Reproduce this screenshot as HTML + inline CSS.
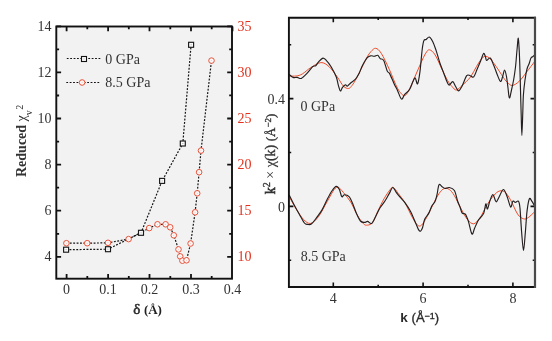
<!DOCTYPE html>
<html><head><meta charset="utf-8"><style>
html,body{margin:0;padding:0;background:#fff;width:552px;height:341px;overflow:hidden}
svg{display:block;will-change:transform;font-family:"Liberation Serif",serif}
</style></head><body>
<svg width="552" height="341" viewBox="0 0 552 341">
<rect x="0" y="0" width="552" height="341" fill="#fff"/>
<rect x="56.3" y="26.5" width="175.7" height="252.2" fill="#f2f2f2"/>
<rect x="288.9" y="17.7" width="246.1" height="269.3" fill="#f2f2f2"/>
<path d="M66.6 278.7 V273.9 M66.6 26.5 V31.3 M87.3 278.7 V275.9 M87.3 26.5 V29.3 M108.1 278.7 V273.9 M108.1 26.5 V31.3 M128.8 278.7 V275.9 M128.8 26.5 V29.3 M149.5 278.7 V273.9 M149.5 26.5 V31.3 M170.3 278.7 V275.9 M170.3 26.5 V29.3 M191.0 278.7 V273.9 M191.0 26.5 V31.3 M211.7 278.7 V275.9 M211.7 26.5 V29.3 M232.5 26.5 V31.3 M56.3 256.8 H61.1 M56.3 233.8 H59.1 M56.3 210.7 H61.1 M56.3 187.7 H59.1 M56.3 164.6 H61.1 M56.3 141.6 H59.1 M56.3 118.5 H61.1 M56.3 95.5 H59.1 M56.3 72.4 H61.1 M56.3 49.3 H59.1 M56.3 26.3 H61.1 M232.0 256.8 H227.2 M232.0 233.8 H229.2 M232.0 210.7 H227.2 M232.0 187.7 H229.2 M232.0 164.6 H227.2 M232.0 141.6 H229.2 M232.0 118.5 H227.2 M232.0 95.4 H229.2 M232.0 72.4 H227.2 M232.0 49.3 H229.2 M232.0 26.3 H227.2" stroke="#111" stroke-width="1.8" fill="none"/>
<rect x="56.3" y="26.5" width="175.7" height="252.2" fill="none" stroke="#111" stroke-width="1.9"/>
<path d="M333.3 287.0 V282.5 M333.3 17.7 V22.2 M378.2 287.0 V284.7 M378.2 17.7 V20.0 M423.1 287.0 V282.5 M423.1 17.7 V22.2 M468.0 287.0 V284.7 M468.0 17.7 V20.0 M512.9 287.0 V282.5 M512.9 17.7 V22.2 M288.9 260.3 H291.2 M535.0 260.3 H532.7 M288.9 206.4 H293.4 M535.0 206.4 H530.5 M288.9 152.5 H291.2 M535.0 152.5 H532.7 M288.9 98.6 H293.4 M535.0 98.6 H530.5 M288.9 44.7 H291.2 M535.0 44.7 H532.7" stroke="#111" stroke-width="1.6" fill="none"/>
<path d="M289.2 76.0 C290.4 76.0 294.0 76.3 296.2 76.0 C298.4 75.7 300.0 75.3 302.4 73.9 C304.8 72.5 307.5 69.6 310.6 67.7 C313.7 65.8 317.8 62.8 320.9 62.6 C324.0 62.4 326.4 64.3 329.1 66.7 C331.8 69.1 334.9 73.8 337.3 77.0 C339.7 80.2 341.6 84.3 343.5 86.2 C345.4 88.1 347.1 88.6 348.5 88.5 C349.9 88.4 350.6 87.2 352.0 85.5 C353.4 83.8 354.7 81.5 356.6 78.0 C358.5 74.5 361.4 68.3 363.2 64.8 C365.0 61.3 365.9 59.1 367.2 56.9 C368.5 54.7 369.6 52.9 371.0 51.5 C372.4 50.1 374.0 48.0 375.7 48.3 C377.4 48.6 379.0 49.8 381.3 53.4 C383.6 57.0 386.8 63.9 389.5 69.8 C392.2 75.7 395.2 84.3 397.7 88.6 C400.2 92.9 402.6 95.9 404.7 95.6 C406.8 95.3 408.6 90.5 410.5 86.9 C412.4 83.3 414.4 78.0 416.1 74.0 C417.9 70.0 419.4 66.2 421.0 62.7 C422.6 59.2 424.4 55.2 425.8 53.1 C427.2 51.0 427.9 49.5 429.5 49.8 C431.1 50.1 433.1 51.7 435.2 55.0 C437.3 58.3 440.1 65.5 442.2 69.8 C444.3 74.0 446.0 77.7 447.6 80.5 C449.2 83.3 450.5 84.9 452.0 86.5 C453.5 88.1 454.7 90.2 456.4 90.0 C458.1 89.8 459.6 87.7 462.0 85.5 C464.4 83.3 468.1 80.2 470.5 77.0 C472.9 73.8 474.4 69.8 476.5 66.5 C478.6 63.2 481.0 58.7 483.1 57.2 C485.2 55.7 486.9 56.2 489.0 57.7 C491.1 59.2 493.7 63.1 496.0 66.3 C498.3 69.5 501.2 74.3 503.0 76.9 C504.8 79.5 505.4 80.6 507.0 82.0 C508.6 83.4 510.2 85.7 512.3 85.5 C514.4 85.3 517.0 83.3 519.4 81.1 C521.8 78.9 523.9 75.5 526.4 72.3 C528.9 69.1 533.2 63.5 534.6 61.7" stroke="#ee4a28" stroke-width="1.0" fill="none"/>
<path d="M289.2 196.5 C290.4 198.6 293.8 205.2 296.2 209.0 C298.6 212.8 301.0 216.9 303.4 219.3 C305.8 221.7 308.0 223.9 310.6 223.4 C313.2 222.9 316.1 219.8 318.8 216.2 C321.5 212.6 324.4 206.2 327.0 201.8 C329.6 197.4 332.3 191.9 334.2 189.5 C336.1 187.1 336.8 187.0 338.3 187.5 C339.9 188.0 341.4 190.0 343.5 192.6 C345.6 195.2 348.9 199.1 351.2 202.9 C353.5 206.7 355.2 211.7 357.3 215.2 C359.4 218.7 361.8 222.2 363.5 223.8 C365.2 225.5 366.1 225.3 367.6 225.1 C369.1 224.9 371.0 224.7 372.7 222.4 C374.4 220.1 376.0 215.0 377.9 211.1 C379.8 207.2 381.9 202.4 384.0 198.8 C386.1 195.2 388.6 191.4 390.2 189.5 C391.8 187.6 391.9 186.8 393.3 187.5 C394.7 188.2 396.4 191.0 398.4 193.6 C400.3 196.2 402.7 198.9 405.0 202.9 C407.3 206.9 410.2 213.6 412.3 217.3 C414.4 221.0 415.9 223.8 417.5 225.1 C419.1 226.4 420.1 226.4 421.6 225.1 C423.1 223.8 424.8 220.7 426.7 217.3 C428.6 213.9 430.8 208.9 432.9 204.9 C434.9 200.9 437.1 196.3 439.0 193.6 C440.9 190.9 442.5 189.2 444.2 188.5 C445.9 187.8 447.6 188.3 449.3 189.5 C451.0 190.7 452.4 192.4 454.4 195.7 C456.4 198.9 459.0 205.1 461.2 209.0 C463.4 212.9 465.2 216.8 467.3 219.3 C469.4 221.8 471.4 224.0 473.5 223.8 C475.6 223.6 477.6 221.1 479.7 218.3 C481.8 215.5 483.8 210.4 485.8 207.0 C487.9 203.6 489.9 200.3 492.0 197.7 C494.1 195.1 496.1 192.6 498.1 191.6 C500.2 190.6 502.2 190.2 504.3 191.6 C506.4 193.0 508.3 196.1 510.5 199.8 C512.7 203.6 515.4 210.9 517.6 214.1 C519.8 217.3 521.7 218.2 523.5 218.8 C525.3 219.4 526.4 218.8 528.2 217.6 C530.1 216.4 533.5 212.8 534.6 211.8" stroke="#ee4a28" stroke-width="1.0" fill="none"/>
<path d="M289.2 74.5 C289.9 75.0 291.8 76.9 293.1 77.4 C294.4 77.9 295.8 77.2 297.2 77.4 C298.6 77.6 299.8 79.0 301.4 78.4 C302.9 77.8 304.6 75.9 306.5 73.9 C308.4 72.0 311.2 68.1 312.7 66.7 C314.2 65.3 314.7 66.5 315.7 65.7 C316.7 64.9 317.6 62.9 318.8 61.6 C320.0 60.3 321.7 58.4 322.9 58.1 C324.1 57.9 324.6 58.7 326.0 60.1 C327.4 61.5 329.4 63.9 331.1 66.7 C332.8 69.5 335.1 73.9 336.3 77.0 C337.5 80.1 337.6 82.9 338.3 85.2 C339.0 87.5 339.7 90.7 340.4 91.0 C341.1 91.3 341.6 88.3 342.5 87.3 C343.4 86.3 344.7 85.0 345.5 84.8 C346.3 84.6 346.4 86.5 347.3 86.2 C348.2 85.9 349.5 83.9 350.9 82.7 C352.3 81.5 354.1 80.8 355.5 79.2 C356.9 77.7 357.9 75.7 359.1 73.4 C360.3 71.1 361.2 67.8 362.6 65.2 C364.0 62.6 365.9 59.3 367.3 57.7 C368.7 56.1 369.6 56.0 370.8 55.8 C372.0 55.5 373.1 56.3 374.3 56.2 C375.5 56.1 376.8 54.9 377.8 55.3 C378.8 55.7 379.2 57.7 380.2 58.6 C381.2 59.5 382.5 58.4 383.7 60.5 C384.9 62.6 386.2 68.8 387.2 71.0 C388.2 73.2 388.3 71.2 389.5 73.4 C390.7 75.6 392.8 81.0 394.2 83.9 C395.6 86.8 396.5 88.4 397.7 90.9 C398.9 93.4 400.3 98.5 401.5 99.1 C402.7 99.7 403.4 96.0 404.7 94.4 C406.0 92.9 408.0 91.9 409.4 89.8 C410.8 87.7 411.9 83.6 412.9 81.6 C413.9 79.6 414.4 77.6 415.2 78.0 C416.0 78.4 416.8 84.9 417.6 83.9 C418.4 82.9 419.1 78.1 419.9 72.2 C420.7 66.3 421.6 54.0 422.3 48.7 C423.0 43.4 423.2 42.0 423.9 40.5 C424.5 39.0 425.3 40.0 426.2 39.4 C427.1 38.8 428.2 36.6 429.3 37.0 C430.4 37.4 431.6 39.4 432.8 41.7 C434.0 44.1 435.1 47.6 436.3 51.1 C437.5 54.6 438.6 59.3 439.8 62.8 C441.0 66.3 442.2 69.1 443.4 72.2 C444.6 75.3 445.9 79.4 446.9 81.6 C447.9 83.8 448.2 85.1 449.2 85.1 C450.2 85.1 451.6 81.4 452.7 81.6 C453.8 81.8 454.5 84.7 455.5 86.2 C456.5 87.8 457.4 90.9 458.5 90.9 C459.6 90.9 460.6 88.7 462.0 86.2 C463.4 83.7 465.3 77.5 466.7 75.7 C468.1 74.0 469.0 75.5 470.2 75.7 C471.4 75.9 472.5 78.1 473.7 76.9 C474.9 75.7 476.1 71.4 477.3 68.7 C478.5 66.0 479.8 63.0 480.8 60.5 C481.9 58.0 482.8 54.0 483.6 53.4 C484.4 52.8 485.0 55.8 485.5 57.0 C486.0 58.2 485.8 60.3 486.6 60.5 C487.4 60.7 489.0 57.3 490.2 58.1 C491.4 58.9 492.5 62.5 493.7 65.2 C494.9 67.9 496.1 71.8 497.2 74.5 C498.3 77.2 499.6 81.1 500.5 81.5 C501.4 81.9 501.9 78.6 502.6 76.7 C503.3 74.8 503.9 70.1 504.5 70.0 C505.1 69.9 505.8 73.0 506.4 76.0 C507.0 79.0 507.5 84.3 508.0 88.0 C508.5 91.7 508.8 97.7 509.4 98.0 C510.0 98.3 510.8 93.0 511.5 90.0 C512.2 87.0 512.9 83.8 513.6 80.0 C514.3 76.2 514.9 72.0 515.5 67.0 C516.1 62.0 516.5 54.8 517.0 50.0 C517.5 45.2 517.9 37.9 518.3 38.2 C518.7 38.5 519.0 47.5 519.3 52.0 C519.5 56.5 519.6 58.7 519.8 65.0 C520.0 71.3 520.3 81.7 520.5 90.0 C520.7 98.3 521.0 107.4 521.2 115.0 C521.4 122.6 521.6 135.5 521.9 135.5 C522.1 135.5 522.5 121.8 522.7 115.0 C523.0 108.2 523.0 100.8 523.4 95.0 C523.8 89.2 524.4 84.3 525.0 80.0 C525.6 75.7 526.3 71.7 527.0 69.0 C527.7 66.3 528.3 65.8 529.0 64.0 C529.7 62.2 530.3 59.2 531.0 58.0 C531.7 56.8 532.4 57.0 533.0 56.5 C533.6 56.0 534.3 55.2 534.6 55.0" stroke="#241e1e" stroke-width="1.15" fill="none" stroke-linejoin="round"/>
<path d="M289.2 195.0 C290.0 196.7 292.5 201.7 294.2 204.9 C295.9 208.1 297.6 211.2 299.3 214.2 C301.0 217.2 303.0 221.3 304.4 223.0 C305.8 224.7 306.3 224.3 307.5 224.4 C308.7 224.5 310.1 225.0 311.6 223.8 C313.2 222.6 315.1 219.6 316.8 217.3 C318.5 215.0 320.2 213.0 321.9 210.1 C323.6 207.2 325.3 203.1 327.0 199.8 C328.7 196.5 330.6 192.7 332.2 190.5 C333.8 188.3 335.1 186.6 336.3 186.4 C337.5 186.2 338.5 187.8 339.4 189.5 C340.3 191.2 340.9 195.8 341.8 196.7 C342.7 197.6 343.3 194.7 344.5 194.7 C345.7 194.7 347.7 195.0 349.1 196.7 C350.6 198.4 352.0 202.2 353.2 204.9 C354.4 207.6 355.1 210.4 356.3 213.1 C357.5 215.8 359.0 219.4 360.4 221.0 C361.8 222.6 363.3 222.3 364.5 222.4 C365.7 222.5 366.4 221.2 367.6 221.4 C368.8 221.6 370.3 224.3 371.7 223.4 C373.1 222.5 374.4 218.8 375.8 216.2 C377.2 213.6 378.3 210.6 379.9 208.0 C381.4 205.4 383.6 203.2 385.1 200.8 C386.7 198.4 387.9 195.8 389.2 193.6 C390.5 191.4 391.5 187.7 392.7 187.5 C393.9 187.3 395.1 190.9 396.4 192.6 C397.7 194.3 399.1 196.0 400.5 197.7 C401.9 199.4 403.5 200.7 405.1 202.9 C406.7 205.1 408.6 207.8 410.3 211.1 C412.0 214.3 414.0 219.3 415.4 222.4 C416.8 225.5 417.6 228.1 418.5 229.6 C419.4 231.1 419.8 231.5 420.5 231.2 C421.2 230.8 421.9 229.5 422.6 227.5 C423.3 225.5 423.7 221.7 424.7 219.3 C425.7 216.9 427.6 215.3 428.8 213.1 C430.0 210.9 430.8 207.9 431.8 206.0 C432.8 204.1 434.0 203.7 434.9 201.8 C435.8 199.9 436.3 197.5 437.0 194.7 C437.7 191.9 438.1 186.1 439.0 184.8 C439.9 183.5 441.1 186.2 442.1 186.8 C443.1 187.4 444.0 188.4 445.2 188.5 C446.4 188.6 447.8 187.2 449.3 187.5 C450.8 187.8 453.0 188.3 454.4 190.5 C455.8 192.7 456.6 198.1 457.5 200.8 C458.4 203.6 459.2 204.9 460.0 207.0 C460.8 209.1 461.3 211.9 462.2 213.1 C463.1 214.3 464.3 212.8 465.3 214.2 C466.3 215.6 467.4 218.5 468.4 221.4 C469.3 224.3 470.3 229.5 471.0 231.6 C471.7 233.7 471.9 234.6 472.5 234.1 C473.1 233.6 473.6 230.7 474.5 228.6 C475.4 226.5 476.6 223.3 477.6 221.4 C478.6 219.5 479.7 218.7 480.7 217.3 C481.7 215.9 482.9 215.3 483.8 213.1 C484.7 210.9 485.2 204.6 485.8 203.9 C486.4 203.2 486.8 209.5 487.5 209.0 C488.2 208.5 489.0 203.2 489.9 200.8 C490.8 198.4 492.0 194.5 493.0 194.7 C494.0 194.9 495.1 201.5 496.1 201.8 C497.1 202.1 498.0 198.8 499.2 196.7 C500.4 194.6 502.1 189.5 503.4 189.5 C504.7 189.5 505.9 193.6 507.1 196.5 C508.3 199.4 509.6 206.2 510.6 207.0 C511.6 207.8 512.1 202.0 512.9 201.2 C513.7 200.4 514.4 202.4 515.3 202.4 C516.2 202.4 517.6 200.2 518.4 201.2 C519.2 202.2 519.5 203.1 520.0 208.2 C520.5 213.3 521.0 224.7 521.6 231.8 C522.2 238.9 522.9 250.6 523.5 250.6 C524.1 250.6 524.8 238.5 525.4 231.8 C526.0 225.1 526.4 216.1 527.1 210.6 C527.8 205.1 528.6 200.4 529.4 198.8 C530.2 197.2 530.9 200.0 531.8 201.2 C532.7 202.4 534.1 205.1 534.6 205.9" stroke="#241e1e" stroke-width="1.15" fill="none" stroke-linejoin="round"/>
<path d="M535.0 17.7 H288.9 V287.0 H535.0 Z" fill="none" stroke="#111" stroke-width="1.9"/>
<path d="M535.0 16.8 V287.9" fill="none" stroke="#4a4a4a" stroke-width="2.2"/>
<path d="M66.4 243.2 L87.2 243.2 L108.0 242.8 L128.6 239.1 L149.2 228.1 L157.5 224.3 L165.6 224.3 L170.2 227.3 L173.8 235.3 L178.5 249.4 L180.2 256.4 L182.4 260.7 L186.5 260.3 L190.6 243.5 L195.1 212.3 L197.2 193.3 L199.1 172.2 L201.0 150.6 L211.5 60.6" stroke="#151515" stroke-width="1.2" stroke-dasharray="1.9 1.5" fill="none"/>
<path d="M66.1 249.7 L108.0 249.2 L141.0 232.8 L162.1 180.9 L182.8 143.5 L191.1 44.8" stroke="#151515" stroke-width="1.2" stroke-dasharray="1.9 1.5" fill="none"/>
<circle cx="66.4" cy="243.2" r="2.8" fill="#fbf8f8" stroke="#e84a30" stroke-width="0.95"/><circle cx="66.4" cy="243.2" r="0.45" fill="#f0a090"/>
<circle cx="87.2" cy="243.2" r="2.8" fill="#fbf8f8" stroke="#e84a30" stroke-width="0.95"/><circle cx="87.2" cy="243.2" r="0.45" fill="#f0a090"/>
<circle cx="108.0" cy="242.8" r="2.8" fill="#fbf8f8" stroke="#e84a30" stroke-width="0.95"/><circle cx="108.0" cy="242.8" r="0.45" fill="#f0a090"/>
<circle cx="128.6" cy="239.1" r="2.8" fill="#fbf8f8" stroke="#e84a30" stroke-width="0.95"/><circle cx="128.6" cy="239.1" r="0.45" fill="#f0a090"/>
<circle cx="149.2" cy="228.1" r="2.8" fill="#fbf8f8" stroke="#e84a30" stroke-width="0.95"/><circle cx="149.2" cy="228.1" r="0.45" fill="#f0a090"/>
<circle cx="157.5" cy="224.3" r="2.8" fill="#fbf8f8" stroke="#e84a30" stroke-width="0.95"/><circle cx="157.5" cy="224.3" r="0.45" fill="#f0a090"/>
<circle cx="165.6" cy="224.3" r="2.8" fill="#fbf8f8" stroke="#e84a30" stroke-width="0.95"/><circle cx="165.6" cy="224.3" r="0.45" fill="#f0a090"/>
<circle cx="170.2" cy="227.3" r="2.8" fill="#fbf8f8" stroke="#e84a30" stroke-width="0.95"/><circle cx="170.2" cy="227.3" r="0.45" fill="#f0a090"/>
<circle cx="173.8" cy="235.3" r="2.8" fill="#fbf8f8" stroke="#e84a30" stroke-width="0.95"/><circle cx="173.8" cy="235.3" r="0.45" fill="#f0a090"/>
<circle cx="178.5" cy="249.4" r="2.8" fill="#fbf8f8" stroke="#e84a30" stroke-width="0.95"/><circle cx="178.5" cy="249.4" r="0.45" fill="#f0a090"/>
<circle cx="180.2" cy="256.4" r="2.8" fill="#fbf8f8" stroke="#e84a30" stroke-width="0.95"/><circle cx="180.2" cy="256.4" r="0.45" fill="#f0a090"/>
<circle cx="182.4" cy="260.7" r="2.8" fill="#fbf8f8" stroke="#e84a30" stroke-width="0.95"/><circle cx="182.4" cy="260.7" r="0.45" fill="#f0a090"/>
<circle cx="186.5" cy="260.3" r="2.8" fill="#fbf8f8" stroke="#e84a30" stroke-width="0.95"/><circle cx="186.5" cy="260.3" r="0.45" fill="#f0a090"/>
<circle cx="190.6" cy="243.5" r="2.8" fill="#fbf8f8" stroke="#e84a30" stroke-width="0.95"/><circle cx="190.6" cy="243.5" r="0.45" fill="#f0a090"/>
<circle cx="195.1" cy="212.3" r="2.8" fill="#fbf8f8" stroke="#e84a30" stroke-width="0.95"/><circle cx="195.1" cy="212.3" r="0.45" fill="#f0a090"/>
<circle cx="197.2" cy="193.3" r="2.8" fill="#fbf8f8" stroke="#e84a30" stroke-width="0.95"/><circle cx="197.2" cy="193.3" r="0.45" fill="#f0a090"/>
<circle cx="199.1" cy="172.2" r="2.8" fill="#fbf8f8" stroke="#e84a30" stroke-width="0.95"/><circle cx="199.1" cy="172.2" r="0.45" fill="#f0a090"/>
<circle cx="201.0" cy="150.6" r="2.8" fill="#fbf8f8" stroke="#e84a30" stroke-width="0.95"/><circle cx="201.0" cy="150.6" r="0.45" fill="#f0a090"/>
<circle cx="211.5" cy="60.6" r="2.8" fill="#fbf8f8" stroke="#e84a30" stroke-width="0.95"/><circle cx="211.5" cy="60.6" r="0.45" fill="#f0a090"/>
<rect x="63.6" y="247.2" width="5" height="5" fill="#fbfbfb" stroke="#1a1a1a" stroke-width="1.15"/><rect x="65.6" y="249.2" width="0.9" height="0.9" fill="#999"/>
<rect x="105.5" y="246.7" width="5" height="5" fill="#fbfbfb" stroke="#1a1a1a" stroke-width="1.15"/><rect x="107.5" y="248.8" width="0.9" height="0.9" fill="#999"/>
<rect x="138.5" y="230.3" width="5" height="5" fill="#fbfbfb" stroke="#1a1a1a" stroke-width="1.15"/><rect x="140.6" y="232.4" width="0.9" height="0.9" fill="#999"/>
<rect x="159.6" y="178.4" width="5" height="5" fill="#fbfbfb" stroke="#1a1a1a" stroke-width="1.15"/><rect x="161.7" y="180.5" width="0.9" height="0.9" fill="#999"/>
<rect x="180.3" y="141.0" width="5" height="5" fill="#fbfbfb" stroke="#1a1a1a" stroke-width="1.15"/><rect x="182.4" y="143.1" width="0.9" height="0.9" fill="#999"/>
<rect x="188.6" y="42.3" width="5" height="5" fill="#fbfbfb" stroke="#1a1a1a" stroke-width="1.15"/><rect x="190.7" y="44.3" width="0.9" height="0.9" fill="#999"/>
<path d="M66.8 58.5 H81 M100.3 58.5 H87" stroke="#111" stroke-width="1.1" stroke-dasharray="1.8 1.6"/>
<rect x="81.5" y="56.5" width="5" height="5" fill="#fbfbfb" stroke="#111" stroke-width="1.1"/><rect x="83.5" y="58.5" width="1" height="1" fill="#aaa"/>
<path d="M66.3 82.5 H79.2 M99.2 82.5 H85" stroke="#111" stroke-width="1.1" stroke-dasharray="1.8 1.6"/>
<circle cx="82.1" cy="82.5" r="2.8" fill="#fbf8f8" stroke="#e84a30" stroke-width="0.95"/><circle cx="82.1" cy="82.5" r="0.45" fill="#f0a090"/>
<text x="105.3" y="63.6" font-family="Liberation Serif, serif" font-size="14.0" text-anchor="start" fill="#333" font-weight="normal" >0 GPa</text>
<text x="105.3" y="86.9" font-family="Liberation Serif, serif" font-size="14.0" text-anchor="start" fill="#333" font-weight="normal" >8.5 GPa</text>
<text x="51.5" y="30.9" font-family="Liberation Serif, serif" font-size="14.0" text-anchor="end" fill="#333" font-weight="normal" >14</text>
<text x="51.5" y="77.0" font-family="Liberation Serif, serif" font-size="14.0" text-anchor="end" fill="#333" font-weight="normal" >12</text>
<text x="51.5" y="123.1" font-family="Liberation Serif, serif" font-size="14.0" text-anchor="end" fill="#333" font-weight="normal" >10</text>
<text x="51.5" y="169.2" font-family="Liberation Serif, serif" font-size="14.0" text-anchor="end" fill="#333" font-weight="normal" >8</text>
<text x="51.5" y="215.3" font-family="Liberation Serif, serif" font-size="14.0" text-anchor="end" fill="#333" font-weight="normal" >6</text>
<text x="51.5" y="261.4" font-family="Liberation Serif, serif" font-size="14.0" text-anchor="end" fill="#333" font-weight="normal" >4</text>
<text x="237.5" y="30.9" font-family="Liberation Serif, serif" font-size="14.0" text-anchor="start" fill="#e2321e" font-weight="normal" >35</text>
<text x="237.5" y="77.0" font-family="Liberation Serif, serif" font-size="14.0" text-anchor="start" fill="#e2321e" font-weight="normal" >30</text>
<text x="237.5" y="123.1" font-family="Liberation Serif, serif" font-size="14.0" text-anchor="start" fill="#e2321e" font-weight="normal" >25</text>
<text x="237.5" y="169.2" font-family="Liberation Serif, serif" font-size="14.0" text-anchor="start" fill="#e2321e" font-weight="normal" >20</text>
<text x="237.5" y="215.3" font-family="Liberation Serif, serif" font-size="14.0" text-anchor="start" fill="#e2321e" font-weight="normal" >15</text>
<text x="237.5" y="261.4" font-family="Liberation Serif, serif" font-size="14.0" text-anchor="start" fill="#e2321e" font-weight="normal" >10</text>
<text x="66.6" y="293.6" font-family="Liberation Serif, serif" font-size="14.0" text-anchor="middle" fill="#333" font-weight="normal" >0</text>
<text x="108.1" y="293.6" font-family="Liberation Serif, serif" font-size="14.0" text-anchor="middle" fill="#333" font-weight="normal" >0.1</text>
<text x="149.5" y="293.6" font-family="Liberation Serif, serif" font-size="14.0" text-anchor="middle" fill="#333" font-weight="normal" >0.2</text>
<text x="191.0" y="293.6" font-family="Liberation Serif, serif" font-size="14.0" text-anchor="middle" fill="#333" font-weight="normal" >0.3</text>
<text x="232.5" y="293.6" font-family="Liberation Serif, serif" font-size="14.0" text-anchor="middle" fill="#333" font-weight="normal" >0.4</text>
<text x="133.3" y="314.0" font-family="Liberation Serif, serif" font-size="14.0" text-anchor="start" fill="#333" font-weight="normal" ><tspan font-size="15" stroke="#222" stroke-width="0.5">&#948;</tspan> <tspan font-weight="bold" font-size="13" fill="#222">(&#197;)</tspan></text>
<text transform="translate(26.1,177) rotate(-90)" font-family="Liberation Serif, serif" font-size="14" fill="#333"><tspan font-weight="bold">Reduced </tspan>&#967;<tspan font-size="10" dy="6.3">v</tspan><tspan font-size="10" dx="0.5" dy="-9.3">2</tspan></text>
<text x="300.5" y="111.0" font-family="Liberation Serif, serif" font-size="14.0" text-anchor="start" fill="#333" font-weight="normal" >0 GPa</text>
<text x="300.7" y="260.7" font-family="Liberation Serif, serif" font-size="14.0" text-anchor="start" fill="#333" font-weight="normal" >8.5 GPa</text>
<text x="333.3" y="302.8" font-family="Liberation Serif, serif" font-size="14.0" text-anchor="middle" fill="#333" font-weight="normal" >4</text>
<text x="423.1" y="302.8" font-family="Liberation Serif, serif" font-size="14.0" text-anchor="middle" fill="#333" font-weight="normal" >6</text>
<text x="512.9" y="302.8" font-family="Liberation Serif, serif" font-size="14.0" text-anchor="middle" fill="#333" font-weight="normal" >8</text>
<text x="285.0" y="104.4" font-family="Liberation Serif, serif" font-size="14.0" text-anchor="end" fill="#333" font-weight="normal" >0.4</text>
<text x="285.0" y="212.2" font-family="Liberation Serif, serif" font-size="14.0" text-anchor="end" fill="#333" font-weight="normal" >0</text>
<text x="400.3" y="321.7" font-family="Liberation Sans, sans-serif" font-size="13.5" fill="#2a2a2a"><tspan font-weight="bold">k</tspan> <tspan stroke="#2a2a2a" stroke-width="0.35" font-size="13">(&#197;<tspan font-size="9" dy="-3">&#8722;1</tspan><tspan dy="3">)</tspan></tspan></text>
<text transform="translate(275.2,194.2) rotate(-90)" font-family="Liberation Serif, serif" font-size="14" fill="#333" stroke="#333" stroke-width="0.35"><tspan stroke-width="0.6">k</tspan><tspan font-size="10" dy="-5">2</tspan><tspan dy="5" stroke-width="0"> &#215; </tspan><tspan stroke-width="0.15">&#967;</tspan>(k) <tspan font-size="13">(&#197;</tspan><tspan font-size="9" dy="-4">&#8722;2</tspan><tspan font-size="13" dy="4">)</tspan></text>
</svg>
</body></html>
